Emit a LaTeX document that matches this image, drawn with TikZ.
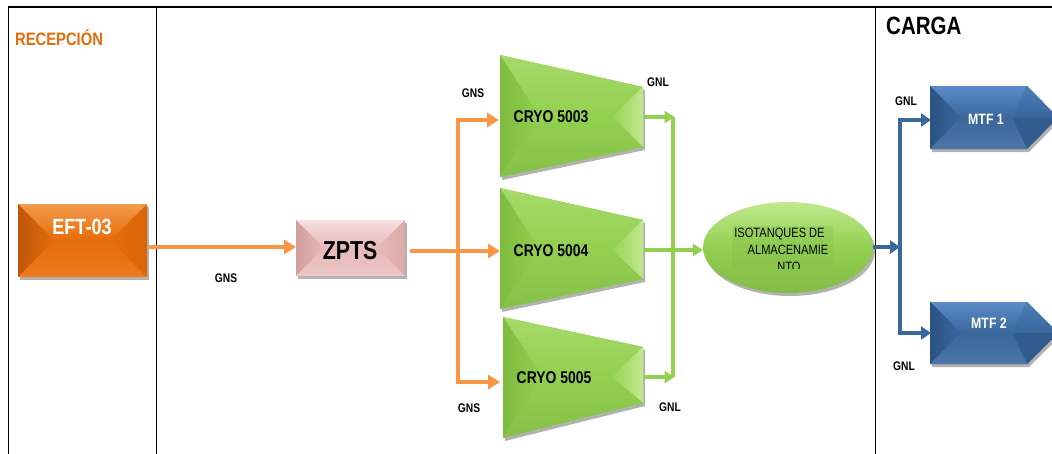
\documentclass[tikz,border=0pt]{standalone}
\usepackage{fontspec}
\setmainfont{Liberation Sans}
\newfontfamily\narrow[FakeStretch=0.82]{Liberation Sans}
\usetikzlibrary{arrows.meta,shadows,shapes.geometric,calc}
\definecolor{orA}{HTML}{E46C0A}
\definecolor{orD}{HTML}{C0560A}
\definecolor{orR}{HTML}{D96609}
\definecolor{orT}{HTML}{F59A4C}
\definecolor{orB}{HTML}{EC7A1E}
\definecolor{orL}{HTML}{F79646}
\definecolor{pinkZ}{HTML}{E6B9B8}
\definecolor{pinkT}{HTML}{F6DFDE}
\definecolor{pinkD}{HTML}{D09E9D}
\definecolor{pinkR}{HTML}{DBAAA9}
\definecolor{pinkB}{HTML}{ECC6C5}
\definecolor{grn}{HTML}{92D050}
\definecolor{grnL}{HTML}{C2E88F}
\definecolor{grnT}{HTML}{A6DA6A}
\definecolor{grnD}{HTML}{7FBB3E}
\definecolor{grnA}{HTML}{92D050}
\definecolor{blu}{HTML}{3A679C}
\definecolor{bluT}{HTML}{5A8CC6}
\definecolor{bluU}{HTML}{4A7DB8}
\definecolor{bluD}{HTML}{2C5282}
\definecolor{bluR}{HTML}{335C8E}
\definecolor{bluA}{HTML}{3A679C}
\newcommand\bevelrect[7]{%
  \shade[top color=#4,bottom color=#3] (#1.north west) -- (#1.north east) -- ($(#1.north east)+(-#2,#2)$) -- ($(#1.north west)+(#2,#2)$) -- cycle;
  \shade[left color=#5,right color=#3] (#1.north west) -- (#1.south west) -- ($(#1.south west)+(#2,-#2)$) -- ($(#1.north west)+(#2,#2)$) -- cycle;
  \shade[left color=#3,right color=#6] (#1.north east) -- (#1.south east) -- ($(#1.south east)+(-#2,-#2)$) -- ($(#1.north east)+(-#2,#2)$) -- cycle;
  \shade[top color=#3,bottom color=#7] (#1.south west) -- (#1.south east) -- ($(#1.south east)+(-#2,-#2)$) -- ($(#1.south west)+(#2,-#2)$) -- cycle;
}
\tikzset{
  sh/.style={drop shadow={shadow xshift=2pt,shadow yshift=-3pt,opacity=0.3,fill=black}},
  boxn/.style={rectangle,inner sep=0pt,outer sep=0pt,sh},
  lbl/.style={font=\narrow\bfseries\fontsize{12.5}{13}\selectfont,inner sep=0pt},
  cryotxt/.style={font=\narrow\bfseries\fontsize{17}{18}\selectfont,inner sep=0pt},
  isot/.style={font=\narrow\fontsize{13.5}{15}\selectfont,inner sep=0pt},
  mtft/.style={font=\narrow\bfseries\fontsize{15}{15}\selectfont,text=white,inner sep=0pt},
  oline/.style={draw=orL,line width=4pt},
  gline/.style={draw=grnA,line width=3.5pt},
  bline/.style={draw=bluA,line width=4pt},
  otip/.style={-{Triangle[length=12pt,width=14pt]}},
  gtip/.style={-{Triangle[length=10pt,width=12pt]}},
  btip/.style={-{Triangle[length=10pt,width=13pt]}},
}
\begin{document}
\begin{tikzpicture}[x=1pt,y=-1pt]
\useasboundingbox (0,0) rectangle (1052,453);
\clip (0,0) rectangle (1052,453);
\fill[white] (0,0) rectangle (1052,453);
% frame
\draw[line width=1.8pt] (8,7) -- (1060,7);
\draw[line width=1pt] (8,7) -- (8,460);
\draw[line width=1pt] (156,7) -- (156,460);
\draw[line width=1pt] (875,7) -- (875,460);
% titles
\node[anchor=west,inner sep=0pt,text=orA,font=\narrow\bfseries\fontsize{18}{18}\selectfont] (recep) at (15,38) {RECEPCIÓN};
\node[anchor=west,inner sep=0pt,font=\narrow\bfseries\fontsize{25}{25}\selectfont] (carga) at (886,26) {CARGA};
% EFT-03
\node[boxn,fill=orA,minimum width=129pt,minimum height=73pt] (eft) at (82.5,240.5) {};
\bevelrect{eft}{36.5}{orA}{orT}{orD}{orR}{orB}
\node[font=\narrow\bfseries\fontsize{22}{22}\selectfont,text=white,inner sep=0pt] (eftlbl) at (82,227) {EFT-03};
% ZPTS
\node[boxn,fill=pinkZ,minimum width=109pt,minimum height=56pt] (zpts) at (350.5,248) {};
\bevelrect{zpts}{28}{pinkZ}{pinkT}{pinkD}{pinkR}{pinkB}
\node[font=\narrow\bfseries\fontsize{26}{26}\selectfont,inner sep=0pt] (zptslbl) at (350,251) {ZPTS};
% CRYO trapezoids
\foreach \n/\ya/\yb/\yc/\yd/\xl/\ym in {A/55/87/147/177/500/117, B/188/220/279/309/500/250, C/317/347/403/438/503/377}{
  \fill[grn,sh] (\xl,\ya) -- (643,\yb) -- (643,\yc) -- (\xl,\yd) -- cycle;
  \shade[top color=grnT,bottom color=grn] (\xl,\ya) -- (643,\yb) -- (612,\ym) -- ({\xl+40},\ym) -- cycle;
  \shade[left color=grnD,right color=grn] (\xl,\ya) -- (\xl,\yd) -- ({\xl+40},\ym) -- cycle;
  \shade[left color=grn!90!grnL,right color=grnL] (643,\yb) -- (643,\yc) -- (612,\ym) -- cycle;
  \shade[top color=grn,bottom color=grn!92!black] (\xl,\yd) -- (643,\yc) -- (612,\ym) -- ({\xl+40},\ym) -- cycle;
}
\node[cryotxt] (cryoA) at (551,117) {CRYO 5003};
\node[cryotxt] (cryoB) at (551,251) {CRYO 5004};
\node[cryotxt] (cryoC) at (554,378) {CRYO 5005};
% Isotanques
\node[ellipse,minimum width=170pt,minimum height=91pt,inner sep=0pt,top color=grnL,bottom color=grn!90!black,middle color=grn,sh] (iso) at (788,247.5) {};
\fill[grn!92!black,opacity=0.35] (732,226) rectangle (833,268);
\begin{scope}
\clip (732,226) rectangle (833,268);
\node[isot] (isotxt1) at (779.5,234.5) {ISOTANQUES DE};
\node[isot] (isotxt2) at (788,249.5) {ALMACENAMIE};
\node[isot] (isotxt3) at (789,267) {NTO};
\end{scope}
% MTF arrows
\foreach \n/\yt/\yb in {1/86/149, 2/302/364}{
  \pgfmathsetmacro\ymid{(\yt+\yb)/2}
  \fill[blu,sh] (930,\yt) -- (1027,\yt) -- (1058,\ymid) -- (1027,\yb) -- (930,\yb) -- cycle;
  \shade[top color=bluT,bottom color=blu] (930,\yt) -- (1027,\yt) -- (1012,\ymid) -- (961,\ymid) -- cycle;
  \shade[left color=bluD,right color=blu] (930,\yt) -- (930,\yb) -- (961,\ymid) -- cycle;
  \shade[top color=bluU,bottom color=blu] (1027,\yt) -- (1058,\ymid) -- (1012,\ymid) -- cycle;
  \fill[bluR] (1027,\yb) -- (1058,\ymid) -- (1012,\ymid) -- cycle;
  \shade[top color=blu,bottom color=blu!90!white] (930,\yb) -- (1027,\yb) -- (1012,\ymid) -- (961,\ymid) -- cycle;
}
\node[mtft] (mtf1) at (986,119) {MTF 1};
\node[mtft] (mtf2) at (989,323) {MTF 2};
% connection points
\coordinate (eftout) at (149,247);
\coordinate (zout) at (410,251);
\coordinate (splitT) at (458,120);
\coordinate (splitB) at (458,382);
\coordinate (cAin) at (499,120);
\coordinate (cBin) at (500,251);
\coordinate (cCin) at (500,382);
\coordinate (cAout) at (644,117);
\coordinate (cBout) at (644,250);
\coordinate (cCout) at (644,377);
\coordinate (gT) at (673,117);
\coordinate (gB) at (673,377);
\coordinate (isoin) at (703,250);
\coordinate (isoout) at (873,247);
\coordinate (bT) at (900,120);
\coordinate (bM) at (900,247);
\coordinate (bB) at (900,333);
\coordinate (m1in) at (931,120);
\coordinate (m2in) at (931,333);
% orange connectors
\draw[oline,otip] (eftout) -- (eftout -| zpts.west);
\draw[oline,otip] (zout) -- (cBin);
\draw[oline,{Triangle[length=12pt,width=14pt]}-{Triangle[length=12pt,width=14pt]}] (cAin) -- (splitT) -- (splitB) -- (cCin);
% green connectors
\draw[gline] (gT) -- (gB);
\draw[gline,gtip] (cAout) -- ([xshift=1.5pt]gT);
\draw[gline,gtip] (cCout) -- ([xshift=1.5pt]gB);
\draw[gline,gtip] (cBout) -- (isoin);
% blue connectors
\draw[bline,btip] (isoout) -- (bM);
\draw[bline,{Triangle[length=10pt,width=13pt]}-{Triangle[length=10pt,width=13pt]}] (m1in) -- (bT) -- (bB) -- (m2in);
% labels
\node[lbl] (gns1) at (226,278) {GNS};
\node[lbl] (gns2) at (473,93) {GNS};
\node[lbl] (gnl1) at (658,82) {GNL};
\node[lbl] (gns3) at (469,408) {GNS};
\node[lbl] (gnl2) at (670,407) {GNL};
\node[lbl] (gnl3) at (906,101) {GNL};
\node[lbl] (gnl4) at (904,366) {GNL};
\end{tikzpicture}
\end{document}
